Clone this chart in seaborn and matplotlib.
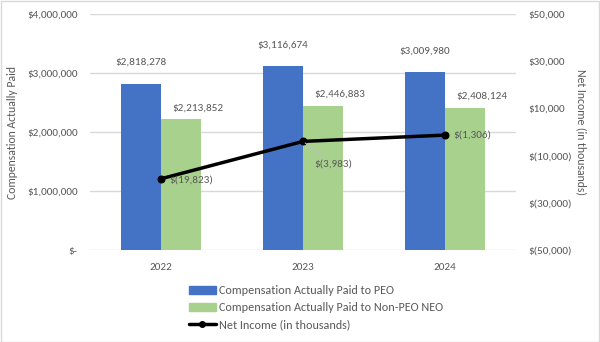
import matplotlib
matplotlib.use("Agg")
import matplotlib.pyplot as plt
import seaborn as sns
import pandas as pd
import numpy as np
from matplotlib.lines import Line2D
from matplotlib.patches import Patch
from matplotlib import font_manager

years = ["2022", "2023", "2024"]
cap_peo = [2818278, 3116674, 3009980]
cap_non_peo = [2213852, 2446883, 2408124]
net_income = [-19823, -3983, -1306]
left_ticks = [0, 1000000, 2000000, 3000000, 4000000]
right_ticks = [-50000, -30000, -10000, 10000, 30000, 50000]
series_names = ["Compensation Actually Paid to PEO", "Compensation Actually Paid to Non-PEO NEO"]
line_name = "Net Income (in thousands)"

sns.set_theme(style="white")
names = {f.name for f in font_manager.fontManager.ttflist}
fam = [n for n in ["Carlito", "Liberation Sans Narrow", "Open Sans"] if n in names]
plt.rcParams['font.family'] = fam + ['DejaVu Sans']
TXT = "#595959"
FS = 8

df = pd.DataFrame({
    "year": years * 2,
    "value": cap_peo + cap_non_peo,
    "series": [series_names[0]] * 3 + [series_names[1]] * 3,
})

fig = plt.figure(figsize=(6.0, 3.42), dpi=100)
ax = fig.add_axes([0.15, 0.269, 0.71, 0.69])
sns.barplot(data=df, x="year", y="value", hue="series", order=years,
            hue_order=series_names, palette=["#4472C4", "#A9D18E"],
            width=0.57, gap=0, saturation=1, ax=ax, legend=False,
            linewidth=0, edgecolor="none")
ax.set_ylim(0, 4000000)
ax.set_xlim(-0.5, 2.5)
ax.set_yticks(left_ticks)
ax.set_yticklabels(["$-" if v == 0 else f"${v:,.0f}" for v in left_ticks])
ax.yaxis.grid(True, color="#D9D9D9", linewidth=1)
ax.set_axisbelow(True)
for s in ax.spines.values():
    s.set_visible(False)
ax.tick_params(axis="both", length=0, labelsize=FS, colors=TXT, pad=9)
ax.set_xlabel("")
ax.set_ylabel("Compensation Actually Paid", fontsize=8.5, color=TXT, va="center")
ax.yaxis.set_label_coords(-0.183, 0.5)

# bar labels
for i, v in enumerate(cap_peo):
    ax.annotate(f"${v:,.0f}", (i - 0.1425, v), xytext=(0, 12), textcoords="offset points",
                ha="center", va="bottom", fontsize=FS, color=TXT)
for i, v in enumerate(cap_non_peo):
    ax.annotate(f"${v:,.0f}", (i + 0.1425, v), xytext=(12, 5), textcoords="offset points",
                ha="center", va="bottom", fontsize=FS, color=TXT)

ax2 = ax.twinx()
sns.lineplot(x=np.arange(len(years)), y=net_income, ax=ax2, color="black",
             linewidth=2.5, marker="o", markersize=5, markeredgecolor="black")
ax2.set_ylim(-50000, 50000)
ax2.set_yticks(right_ticks)
ax2.set_yticklabels([f"$({abs(v):,.0f})" if v < 0 else f"${v:,.0f}" for v in right_ticks])
for s in ax2.spines.values():
    s.set_visible(False)
ax2.tick_params(axis="y", length=0, labelsize=FS, colors=TXT, pad=9)
ax2.set_ylabel(line_name, fontsize=8.5, color=TXT, rotation=270, va="center")
ax2.yaxis.set_label_coords(1.152, 0.5)
ax2.grid(False)

fmt = lambda v: f"$({abs(v):,.0f})" if v < 0 else f"${v:,.0f}"
ax2.annotate(fmt(net_income[0]), (0, net_income[0]), xytext=(6, -1), textcoords="offset points",
             ha="left", va="center", fontsize=FS, color=TXT)
ax2.annotate(fmt(net_income[1]), (1, net_income[1]), xytext=(8, -16), textcoords="offset points",
             ha="left", va="center", fontsize=FS, color=TXT,
             arrowprops=dict(arrowstyle="-", color="#BFBFBF", lw=0.8, shrinkA=0, shrinkB=2))
ax2.annotate(fmt(net_income[2]), (2, net_income[2]), xytext=(6, 0), textcoords="offset points",
             ha="left", va="center", fontsize=FS, color=TXT)

handles = [Patch(color="#4472C4"), Patch(color="#A9D18E"),
           Line2D([0], [0], color="black", lw=2.5, marker="o", markersize=4)]
fig.legend(handles, series_names + [line_name], loc="upper left",
           bbox_to_anchor=(0.305, 0.183), frameon=False, ncol=1, fontsize=8.7,
           labelcolor=TXT, handlelength=2.2, handleheight=0.6, labelspacing=0.5,
           handletextpad=0.3, borderpad=0)

fig.patches.append(plt.Rectangle((0.001, 0.001), 0.997, 0.996, transform=fig.transFigure,
                                 fill=False, edgecolor="#D9D9D9", lw=1))
fig.savefig("out.png", dpi=100)
